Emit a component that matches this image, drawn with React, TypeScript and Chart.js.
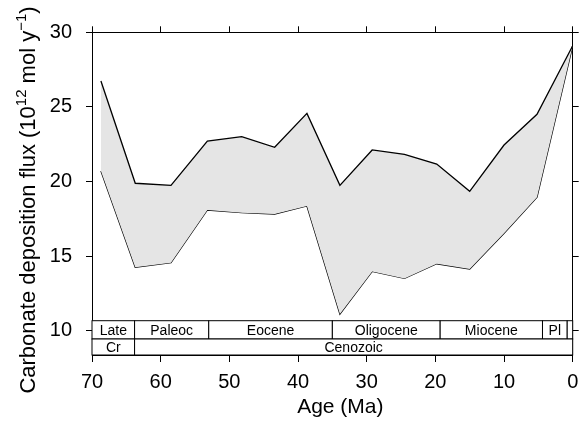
import React, { useEffect, useRef } from 'react';
import { Chart, registerables } from 'chart.js';

Chart.register(...registerables);

// ---- data ----
const ages = [68.7, 63.7, 58.5, 53.2, 48.2, 43.4, 38.7, 33.9, 29.2, 24.5, 19.8, 15.0, 10.0, 5.2, 0];
const upperFlux = [26.74, 19.89, 19.75, 22.72, 23.01, 22.3, 24.57, 19.75, 22.12, 21.83, 21.18, 19.35, 22.45, 24.51, 29.1];
const lowerFlux = [20.71, 14.26, 14.57, 18.1, 17.92, 17.83, 18.37, 11.13, 13.99, 13.52, 14.5, 14.15, 16.54, 18.95, 29.1];

const xTicks = [70, 60, 50, 40, 30, 20, 10, 0];
const yTicks = [10, 15, 20, 25, 30];

const epochNames = ['Late', 'Paleoc', 'Eocene', 'Oligocene', 'Miocene', 'Pl', ''];
const epochStart = [70, 63.8, 53, 35, 19.3, 4.4, 0.8];
const epochEnd = [63.8, 53, 35, 19.3, 4.4, 0.8, 0];

const eraNames = ['Cr', 'Cenozoic'];
const eraStart = [70, 63.8];
const eraEnd = [63.8, 0];

const xTitle = 'Age (Ma)';
const yTitleParts = [
  { text: 'Carbonate deposition flux (10', sup: false },
  { text: '12', sup: true },
  { text: ' mol y', sup: false },
  { text: '\u22121', sup: true },
  { text: ')', sup: false },
];

const FONT = '"Liberation Sans", Arial, Helvetica, sans-serif';

const bandPlugin = {
  id: 'timeBand',
  afterDatasetsDraw(chart: any) {
    const { ctx, chartArea, scales } = chart;
    const xs = scales.x;
    const bottom = chartArea.bottom;
    const rowMid = bottom - 16;
    const rowTop = bottom - 34.3;
    ctx.save();
    ctx.lineWidth = 1;
    ctx.strokeStyle = '#000';
    ctx.font = `14px ${FONT}`;
    ctx.textAlign = 'center';
    ctx.textBaseline = 'middle';
    for (let i = 0; i < epochNames.length; i++) {
      const x1 = xs.getPixelForValue(epochStart[i]);
      const x2 = xs.getPixelForValue(epochEnd[i]);
      ctx.fillStyle = '#fff';
      ctx.fillRect(x1, rowTop, x2 - x1, rowMid - rowTop);
      ctx.strokeRect(x1, rowTop, x2 - x1, rowMid - rowTop);
      ctx.fillStyle = '#000';
      ctx.fillText(epochNames[i], (x1 + x2) / 2, (rowTop + rowMid) / 2 + 1);
    }
    for (let i = 0; i < eraNames.length; i++) {
      const x1 = xs.getPixelForValue(eraStart[i]);
      const x2 = xs.getPixelForValue(eraEnd[i]);
      ctx.fillStyle = '#fff';
      ctx.fillRect(x1, rowMid, x2 - x1, bottom - rowMid);
      ctx.strokeRect(x1, rowMid, x2 - x1, bottom - rowMid);
      ctx.fillStyle = '#000';
      ctx.fillText(eraNames[i], (x1 + x2) / 2, (rowMid + bottom) / 2 + 1);
    }
    ctx.restore();
  },
};

const titlePlugin = {
  id: 'axisTitles',
  afterDraw(chart: any) {
    const { ctx, chartArea } = chart;
    ctx.save();
    ctx.fillStyle = '#000';
    ctx.font = `21px ${FONT}`;
    ctx.textAlign = 'center';
    ctx.textBaseline = 'alphabetic';
    ctx.fillText(xTitle, (chartArea.left + chartArea.right) / 2 + 8, 413);

    // y title with superscripts
    const big = `22px ${FONT}`;
    const small = `15px ${FONT}`;
    let total = 0;
    const widths = yTitleParts.map((p) => {
      ctx.font = p.sup ? small : big;
      const w = ctx.measureText(p.text).width;
      total += w;
      return w;
    });
    ctx.translate(35, 200);
    ctx.rotate(-Math.PI / 2);
    ctx.textAlign = 'left';
    let x = -total / 2;
    yTitleParts.forEach((p, i) => {
      ctx.font = p.sup ? small : big;
      ctx.fillText(p.text, x, p.sup ? -9 : 0);
      x += widths[i];
    });
    ctx.restore();
  },
};

export default function App() {
  const canvasRef = useRef<HTMLCanvasElement | null>(null);

  useEffect(() => {
    if (!canvasRef.current) return;
    const axisGrid = {
      drawOnChartArea: false,
      drawTicks: true,
      tickLength: 7,
      color: '#000',
      lineWidth: 1,
    };
    const axisBorder = { display: true, color: '#000', width: 1 };
    const setX = (s: any) => {
      s.ticks = xTicks.map((v) => ({ value: v }));
    };
    const setY = (s: any) => {
      s.ticks = yTicks.map((v) => ({ value: v }));
    };
    const fitX = (h: number) => (s: any) => {
      s.height = h;
      s.paddingLeft = 0;
      s.paddingRight = 0;
      s.paddingTop = 0;
      s.paddingBottom = 0;
    };
    const fitY = (w: number) => (s: any) => {
      s.width = w;
      s.paddingLeft = 0;
      s.paddingRight = 0;
      s.paddingTop = 0;
      s.paddingBottom = 0;
    };

    const chart = new Chart(canvasRef.current, {
      type: 'line',
      data: {
        datasets: [
          {
            label: 'upper',
            data: ages.map((a, i) => ({ x: a, y: upperFlux[i] })),
            borderColor: '#000',
            borderWidth: 1.3,
            pointRadius: 0,
            tension: 0,
            fill: '+1',
            backgroundColor: 'rgb(229,229,229)',
            xAxisID: 'x',
            yAxisID: 'y',
          },
          {
            label: 'lower',
            data: ages.map((a, i) => ({ x: a, y: lowerFlux[i] })),
            borderColor: '#000',
            borderWidth: 1.3,
            pointRadius: 0,
            tension: 0,
            fill: false,
            xAxisID: 'x',
            yAxisID: 'y',
          },
        ],
      },
      options: {
        animation: false,
        responsive: true,
        maintainAspectRatio: false,
        layout: { padding: 0 },
        plugins: {
          legend: { display: false },
          tooltip: { enabled: false },
        },
        scales: {
          x: {
            type: 'linear',
            position: 'bottom',
            reverse: true,
            min: 0,
            max: 70,
            afterBuildTicks: setX,
            afterFit: fitX(66),
            grid: axisGrid,
            border: axisBorder,
            ticks: {
              color: '#000',
              font: { family: FONT, size: 20 },
              padding: 8,
              maxRotation: 0,
              autoSkip: false,
            },
          },
          xTop: {
            type: 'linear',
            position: 'top',
            reverse: true,
            min: 0,
            max: 70,
            afterBuildTicks: setX,
            afterFit: fitX(32.3),
            grid: { ...axisGrid, tickLength: 6 },
            border: axisBorder,
            ticks: { display: false },
          },
          y: {
            type: 'linear',
            position: 'left',
            min: 8.39,
            max: 30,
            afterBuildTicks: setY,
            afterFit: fitY(92),
            grid: { ...axisGrid, tickLength: 6 },
            border: axisBorder,
            ticks: {
              color: '#000',
              font: { family: FONT, size: 20 },
              padding: 14,
              autoSkip: false,
            },
          },
          yRight: {
            type: 'linear',
            position: 'right',
            min: 8.39,
            max: 30,
            afterBuildTicks: setY,
            afterFit: fitY(7.3),
            grid: { ...axisGrid, tickLength: 6 },
            border: axisBorder,
            ticks: { display: false },
          },
        },
      },
      plugins: [bandPlugin, titlePlugin],
    });
    return () => chart.destroy();
  }, []);

  return (
    <div style={{ position: 'absolute', left: 0, top: 0, width: 580, height: 421, background: '#fff' }}>
      <canvas ref={canvasRef} />
    </div>
  );
}
